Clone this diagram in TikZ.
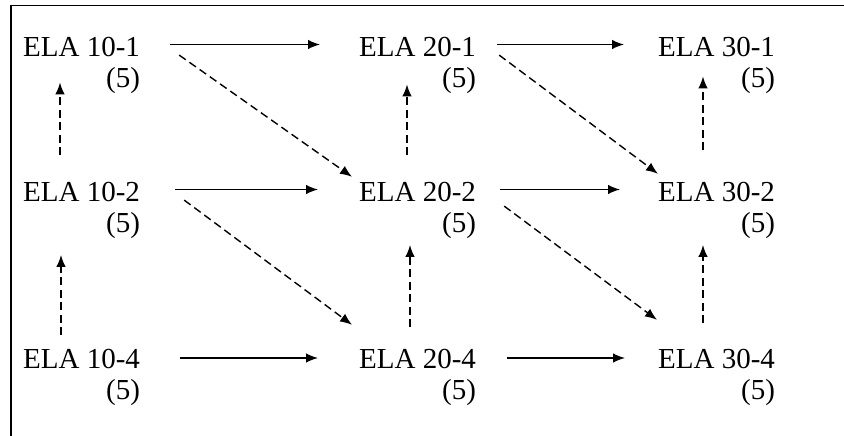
\documentclass[tikz,border=0pt]{standalone}
\usepackage{fontspec}
\setmainfont{Liberation Serif}
\usetikzlibrary{arrows.meta}

\begin{document}
\begin{tikzpicture}[x=1pt,y=1pt]
                  \tikzstyle{every node}+=[inner sep=0pt]
                  \tikzstyle{ela}=[font=\fontsize{29}{30}\selectfont, anchor=base west]
                  \tikzstyle{cnt}=[font=\fontsize{29}{30}\selectfont, anchor=base east]
                  \tikzstyle{hline}=[black, line width=1.4pt, -{Latex[length=12pt,width=9.5pt]}]
                  \tikzstyle{dline}=[hline, dash pattern=on 8pt off 4.5pt]
                  \useasboundingbox (0,0) rectangle (844,-436);
                  \draw [black, line width=1.5pt] (844,-5.5) -- (11,-5.5) -- (11,-436);
                  % titles
                  \node [ela] (ela101) at (23,-57) {ELA 10-1};
                  \node [ela] (ela201) at (359,-57) {ELA 20-1};
                  \node [ela] (ela301) at (658,-57) {ELA 30-1};
                  \node [ela] (ela102) at (23,-201.5) {ELA 10-2};
                  \node [ela] (ela202) at (359,-201.5) {ELA 20-2};
                  \node [ela] (ela302) at (658,-201.5) {ELA 30-2};
                  \node [ela] (ela104) at (23,-368.5) {ELA 10-4};
                  \node [ela] (ela204) at (359,-368.5) {ELA 20-4};
                  \node [ela] (ela304) at (658,-368.5) {ELA 30-4};
                  % counts
                  \node [cnt] (n101) at ([yshift=-30.5pt]ela101.base east) {(5)};
                  \node [cnt] (n201) at ([yshift=-30.5pt]ela201.base east) {(5)};
                  \node [cnt] (n301) at ([yshift=-30.5pt]ela301.base east) {(5)};
                  \node [cnt] (n102) at ([yshift=-30.5pt]ela102.base east) {(5)};
                  \node [cnt] (n202) at ([yshift=-30.5pt]ela202.base east) {(5)};
                  \node [cnt] (n302) at ([yshift=-30.5pt]ela302.base east) {(5)};
                  \node [cnt] (n104) at ([yshift=-30.5pt]ela104.base east) {(5)};
                  \node [cnt] (n204) at ([yshift=-30.5pt]ela204.base east) {(5)};
                  \node [cnt] (n304) at ([yshift=-30.5pt]ela304.base east) {(5)};
                  % solid arrows
                  \draw [hline, shorten <=30pt, shorten >=39pt] ([yshift=3pt]ela101.east) -- ([yshift=3pt]ela201.west);
                  \draw [hline, shorten <=21pt, shorten >=34pt] ([yshift=3pt]ela201.east) -- ([yshift=3pt]ela301.west);
                  \draw [hline, shorten <=35pt, shorten >=41pt] ([yshift=2.5pt]ela102.east) -- ([yshift=2.5pt]ela202.west);
                  \draw [hline, shorten <=24pt, shorten >=38pt] ([yshift=2.5pt]ela202.east) -- ([yshift=2.5pt]ela302.west);
                  \draw [hline, shorten <=40pt, shorten >=41pt] ([yshift=1pt]ela104.east) -- ([yshift=1pt]ela204.west);
                  \draw [hline, shorten <=31pt, shorten >=33pt] ([yshift=1pt]ela204.east) -- ([yshift=1pt]ela304.west);
                  % dashed upward arrows
                  \draw [dline, shorten <=27pt, shorten >=25pt] ([xshift=37pt]ela102.north west) -- ([xshift=37pt]ela101.south west);
                  \draw [dline, shorten <=14pt, shorten >=53pt] ([xshift=38pt]ela104.north west) -- ([xshift=38pt]ela102.south west);
                  \draw [dline, shorten <=27pt, shorten >=27pt] ([xshift=48pt]ela202.north west) -- ([xshift=48pt]ela201.south west);
                  \draw [dline, shorten <=22pt, shorten >=43pt] ([xshift=51pt]ela204.north west) -- ([xshift=51pt]ela202.south west);
                  \draw [dline, shorten <=32pt, shorten >=19pt] ([xshift=45pt]ela302.north west) -- ([xshift=45pt]ela301.south west);
                  \draw [dline, shorten <=26pt, shorten >=43pt] ([xshift=45pt]ela304.north west) -- ([xshift=45pt]ela302.south west);
                  % dashed diagonal arrows
                  \draw [dline] ([shift={(39pt,-7.6pt)}]ela101.east) -- ([shift={(-7pt,5.2pt)}]ela202.north west);
                  \draw [dline] ([shift={(44pt,-8.1pt)}]ela102.east) -- ([shift={(-7pt,24.2pt)}]ela204.north west);
                  \draw [dline] ([shift={(23pt,-7.6pt)}]ela201.east) -- ([shift={(0pt,8.2pt)}]ela302.north west);
                  \draw [dline] ([shift={(28pt,-14.1pt)}]ela202.east) -- ([shift={(-1pt,29.2pt)}]ela304.north west);
              \end{tikzpicture}
\end{document}
